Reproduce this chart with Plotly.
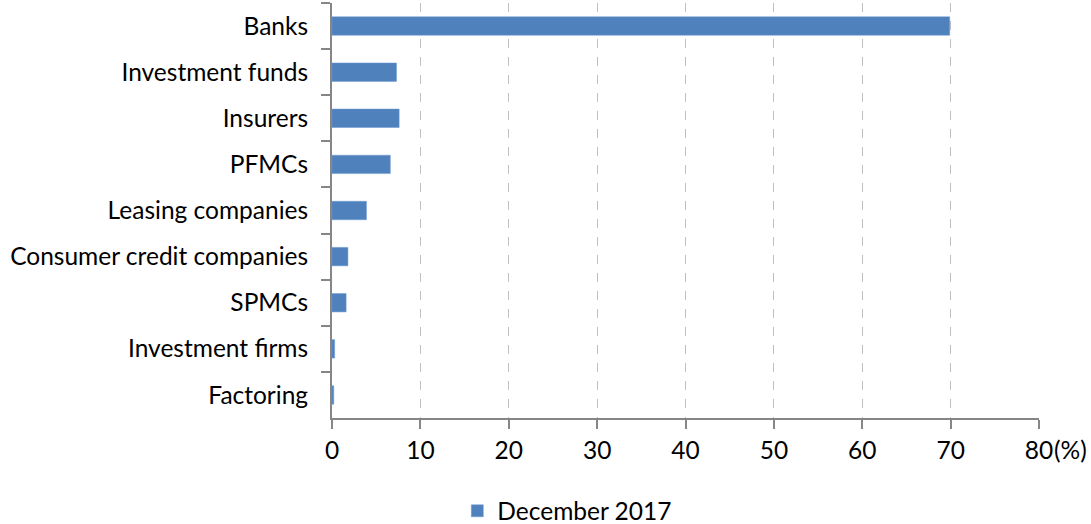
import plotly.graph_objects as go

categories = ["Banks", "Investment funds", "Insurers", "PFMCs", "Leasing companies",
              "Consumer credit companies", "SPMCs", "Investment firms", "Factoring"]
values = [69.9, 7.3, 7.6, 6.6, 3.9, 1.8, 1.6, 0.3, 0.2]
series_name = "December 2017"
x_ticks = [0, 10, 20, 30, 40, 50, 60, 70, 80]
x_ticklabels = ["0", "10", "20", "30", "40", "50", "60", "70", "80"]

font_family = "Lato, Open Sans, sans-serif"
fs = 24.5

fig = go.Figure()
fig.add_trace(go.Bar(
    y=categories, x=values, orientation="h", name=series_name,
    marker=dict(color="#4f81bd", line=dict(color="#6f9bd0", width=0.5)),
    width=0.4,
))

fig.update_layout(
    width=1091, height=524,
    margin=dict(l=332, r=52, t=3, b=106),
    plot_bgcolor="white", paper_bgcolor="white",
    font=dict(family=font_family, size=fs, color="#000000"),
    showlegend=True,
    legend=dict(orientation="h", xref="container", yref="container",
                x=0.52, y=0.025, xanchor="center", yanchor="middle",
                font=dict(size=fs), itemwidth=30),
    bargap=0.6,
)
fig.update_xaxes(
    range=[0, 80], tickvals=x_ticks, ticktext=x_ticklabels,
    showgrid=True, gridcolor="#c0c0c0", griddash="dash", gridwidth=1,
    showline=True, linecolor="#868686", linewidth=2,
    ticks="outside", ticklen=9, tickcolor="#868686", tickwidth=2,
    zeroline=False, tickfont=dict(size=fs), automargin=False,
    ticklabelstandoff=1,
)
fig.update_yaxes(
    autorange="reversed", type="category",
    showline=True, linecolor="#868686", linewidth=2,
    ticks="outside", ticklen=9, tickcolor="#868686", tickwidth=2,
    tickson="boundaries", showgrid=False, ticklabelstandoff=17,
    tickfont=dict(size=fs), automargin=False,
)
fig.add_annotation(text="(%)", xref="paper", yref="paper", x=1.0, y=0,
                   xshift=13, yshift=-31, xanchor="left", yanchor="middle",
                   showarrow=False, font=dict(size=fs))

fig.write_html("out.html", config={"displayModeBar": False},
               post_script="document.body.style.margin='0';document.body.style.overflow='hidden';")
